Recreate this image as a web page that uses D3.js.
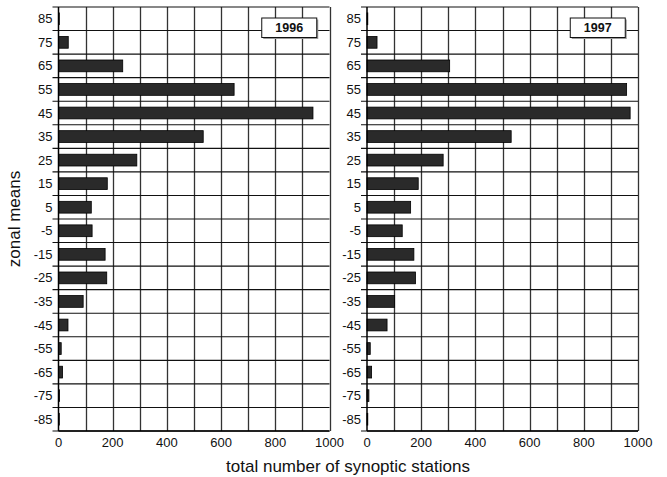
<!DOCTYPE html>
<html><head><meta charset="utf-8">
<script src="https://cdn.jsdelivr.net/npm/d3@7"></script>
<style>body{margin:0;background:#fff}svg{display:block}text{font-family:"Liberation Sans",Arial,sans-serif}</style>
</head><body><svg id="c" width="667" height="477"></svg>
<script>
const zones = ["85","75","65","55","45","35","25","15","5","-5","-15","-25","-35","-45","-55","-65","-75","-85"];
const values1996 = [2,36,237,648,939,534,289,180,121,124,172,178,91,35,10,15,4,1];
const values1997 = [2,37,305,958,971,532,281,189,161,130,173,179,102,74,12,17,7,1];
const years = ["1996","1997"];
const xTicks = [0,200,400,600,800,1000];
const gridTicks = [100,200,300,400,500,600,700,800,900,1000];

const svg = d3.select("#c");
const plotTop = 7, plotBottom = 431;
const panels = [{x0:58.5, x1:329.5, vals:values1996, year:years[0]},
                {x0:367, x1:638, vals:values1997, year:years[1]}];
const y = d3.scaleBand().domain(zones).range([plotTop,plotBottom]).padding(0);

panels.forEach(p => {
  const x = d3.scaleLinear().domain([0,1000]).range([p.x0,p.x1]);
  const g = svg.append("g");
  const gx = g.append("g").attr("class","vgrid");
  gridTicks.forEach(t => {
    const px = Math.round(x(t)) + 0.5;
    gx.append("path").attr("d", `M${px},${plotTop}V${plotBottom}`)
      .attr("fill","none").attr("stroke","#333").attr("stroke-width",1.3);
  });
  const bounds = d3.range(0,zones.length+1).map(i=>plotTop+i*y.step());
  bounds.forEach(b => {
    g.append("line").attr("class","hg")
      .attr("x1",p.x0-6).attr("x2",p.x1).attr("y1",b).attr("y2",b)
      .attr("stroke","#111").attr("stroke-width",1.1);
  });
  const bh = y.step()*0.5;
  g.selectAll("rect.bar").data(zones).enter().append("rect").attr("class","bar")
    .attr("x",x(0)).attr("y",d=>y(d)+y.step()/2-bh/2)
    .attr("width",(d,i)=>Math.max(0.8,x(p.vals[i])-x(0))).attr("height",bh)
    .attr("fill","#2a2a2a").attr("stroke","#000").attr("stroke-width",0.8);
  g.append("line").attr("x1",p.x0).attr("x2",p.x0).attr("y1",plotTop).attr("y2",plotBottom).attr("stroke","#000").attr("stroke-width",1.5);
  g.append("line").attr("x1",p.x0).attr("x2",p.x1).attr("y1",plotBottom).attr("y2",plotBottom).attr("stroke","#000").attr("stroke-width",1.5);
  g.selectAll("text.yl").data(zones).enter().append("text").attr("class","yl")
    .attr("x",p.x0-6).attr("y",d=>y(d)+y.step()/2).attr("dy","0.35em")
    .attr("text-anchor","end").attr("font-size",13).attr("fill","#111").text(d=>d);
  g.selectAll("text.xl").data(xTicks).enter().append("text").attr("class","xl")
    .attr("x",d=>x(d)).attr("y",447).attr("text-anchor","middle")
    .attr("font-size",13).attr("fill","#111").text(d=>d);
  const bx = x(750), bw = 55, by = 18, bhh = 19.5;
  g.append("rect").attr("x",bx+1.5).attr("y",by+1.5).attr("width",bw).attr("height",bhh).attr("fill","#999");
  g.append("rect").attr("x",bx).attr("y",by).attr("width",bw).attr("height",bhh).attr("fill","#fff").attr("stroke","#111").attr("stroke-width",1);
  g.append("text").attr("x",bx+bw/2).attr("y",by+bhh/2).attr("dy","0.36em").attr("text-anchor","middle")
    .attr("font-size",12.5).attr("font-weight","bold").attr("fill","#111").text(p.year);
});

svg.append("text").attr("transform","translate(20,219) rotate(-90)").attr("text-anchor","middle")
  .attr("font-size",17).attr("fill","#111").text("zonal means");
svg.append("text").attr("x",348).attr("y",472).attr("text-anchor","middle")
  .attr("font-size",17).attr("fill","#111").text("total number of synoptic stations");
</script></body></html>
